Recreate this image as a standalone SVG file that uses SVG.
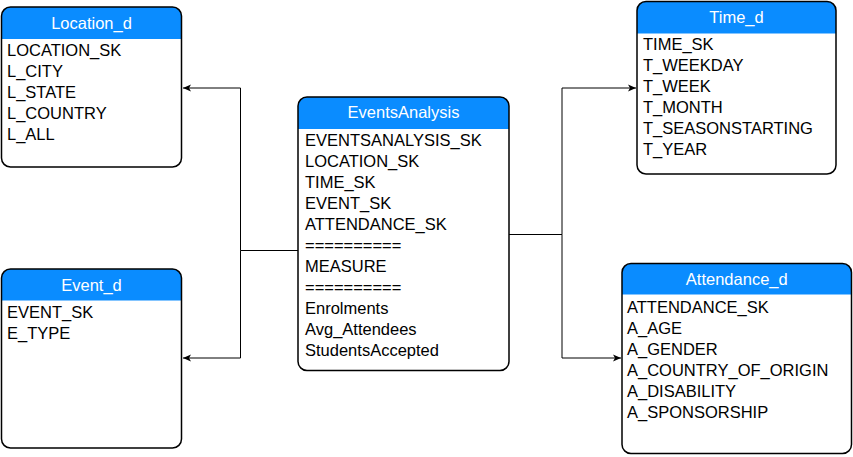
<svg xmlns="http://www.w3.org/2000/svg" width="853" height="457" viewBox="0 0 853 457">
<style>
  .box { fill: #ffffff; stroke: none; }
  .outline { fill: none; stroke: #000000; stroke-width: 1.5; }
  .hdr { fill: #0a8cff; stroke: none; }
  .title { font-family: "Liberation Sans", Arial, sans-serif; font-size: 16.5px; fill: #ffffff; text-anchor: middle; }
  .field { font-family: "Liberation Sans", Arial, sans-serif; font-size: 16.5px; fill: #000000; }
  .conn { fill: none; stroke: #000000; stroke-width: 1; }
</style>
<defs>
  <marker id="arrow" markerUnits="userSpaceOnUse" markerWidth="10" markerHeight="8" refX="8" refY="4" orient="auto">
    <path d="M0,0.5 L8,4 L0,7.5 L2,4 Z" fill="#000000"/>
  </marker>
</defs>

<g id="connectors">
  <path class="conn" d="M298,250.5 H240.5 V88 H183" marker-end="url(#arrow)"/>
  <path class="conn" d="M240.5,250.5 V358 H183" marker-end="url(#arrow)"/>
  <path class="conn" d="M509,234.5 H562 V88 H636" marker-end="url(#arrow)"/>
  <path class="conn" d="M562,234.5 V358 H621" marker-end="url(#arrow)"/>
</g>

<g id="Location_d">
  <rect class="box" x="1.5" y="7" width="180" height="160" rx="9"/>
  <path class="hdr" d="M1.5,39 V16 A9,9 0 0 1 10.5,7 H172.5 A9,9 0 0 1 181.5,16 V39 Z"/>
  <rect class="outline" x="1.5" y="7" width="180" height="160" rx="9"/>
  <text class="title" x="91.5" y="29">Location_d</text>
  <text class="field" x="7" y="56">LOCATION_SK</text>
  <text class="field" x="7" y="77">L_CITY</text>
  <text class="field" x="7" y="98">L_STATE</text>
  <text class="field" x="7" y="119">L_COUNTRY</text>
  <text class="field" x="7" y="140">L_ALL</text>
</g>

<g id="Event_d">
  <rect class="box" x="1.5" y="269" width="180" height="179" rx="9"/>
  <path class="hdr" d="M1.5,300.5 V278 A9,9 0 0 1 10.5,269 H172.5 A9,9 0 0 1 181.5,278 V300.5 Z"/>
  <rect class="outline" x="1.5" y="269" width="180" height="179" rx="9"/>
  <text class="title" x="91.5" y="291">Event_d</text>
  <text class="field" x="7" y="318">EVENT_SK</text>
  <text class="field" x="7" y="339">E_TYPE</text>
</g>

<g id="EventsAnalysis">
  <rect class="box" x="298" y="97" width="211" height="273.5" rx="9"/>
  <path class="hdr" d="M298,129 V106 A9,9 0 0 1 307,97 H500 A9,9 0 0 1 509,106 V129 Z"/>
  <rect class="outline" x="298" y="97" width="211" height="273.5" rx="9"/>
  <text class="title" x="403.5" y="118">EventsAnalysis</text>
  <text class="field" x="305" y="146">EVENTSANALYSIS_SK</text>
  <text class="field" x="305" y="167">LOCATION_SK</text>
  <text class="field" x="305" y="188">TIME_SK</text>
  <text class="field" x="305" y="209">EVENT_SK</text>
  <text class="field" x="305" y="230">ATTENDANCE_SK</text>
  <text class="field" x="305" y="251">==========</text>
  <text class="field" x="305" y="272">MEASURE</text>
  <text class="field" x="305" y="293">==========</text>
  <text class="field" x="305" y="314">Enrolments</text>
  <text class="field" x="305" y="335">Avg_Attendees</text>
  <text class="field" x="305" y="356">StudentsAccepted</text>
</g>

<g id="Time_d">
  <rect class="box" x="637" y="1.5" width="199" height="172.5" rx="9"/>
  <path class="hdr" d="M637,33.5 V10.5 A9,9 0 0 1 646,1.5 H827 A9,9 0 0 1 836,10.5 V33.5 Z"/>
  <rect class="outline" x="637" y="1.5" width="199" height="172.5" rx="9"/>
  <text class="title" x="736.5" y="23">Time_d</text>
  <text class="field" x="643" y="50">TIME_SK</text>
  <text class="field" x="643" y="71">T_WEEKDAY</text>
  <text class="field" x="643" y="92">T_WEEK</text>
  <text class="field" x="643" y="113">T_MONTH</text>
  <text class="field" x="643" y="134">T_SEASONSTARTING</text>
  <text class="field" x="643" y="155">T_YEAR</text>
</g>

<g id="Attendance_d">
  <rect class="box" x="622" y="263.5" width="229.5" height="190" rx="9"/>
  <path class="hdr" d="M622,294.5 V272.5 A9,9 0 0 1 631,263.5 H842.5 A9,9 0 0 1 851.5,272.5 V294.5 Z"/>
  <rect class="outline" x="622" y="263.5" width="229.5" height="190" rx="9"/>
  <text class="title" x="736.75" y="285">Attendance_d</text>
  <text class="field" x="627" y="313">ATTENDANCE_SK</text>
  <text class="field" x="627" y="334">A_AGE</text>
  <text class="field" x="627" y="355">A_GENDER</text>
  <text class="field" x="627" y="376">A_COUNTRY_OF_ORIGIN</text>
  <text class="field" x="627" y="397">A_DISABILITY</text>
  <text class="field" x="627" y="418">A_SPONSORSHIP</text>
</g>
</svg>
